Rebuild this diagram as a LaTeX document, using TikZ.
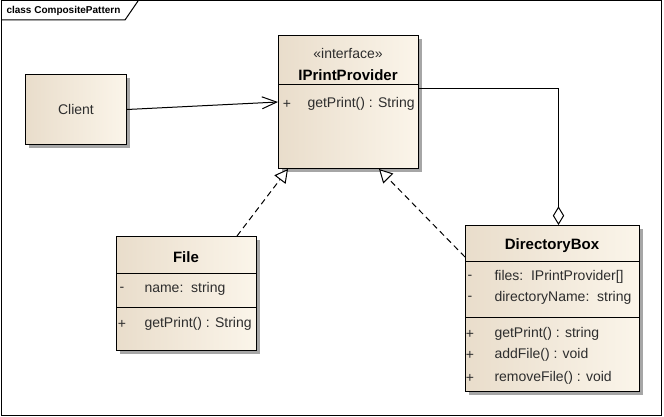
\documentclass[tikz,border=0pt]{standalone}
\usepackage{fontspec}
\setmainfont{Liberation Sans}
\usetikzlibrary{arrows.meta,shadows}

\definecolor{umlfillL}{RGB}{233,221,203}
\definecolor{umlfillR}{RGB}{251,245,234}
\definecolor{umltext}{RGB}{45,45,45}

\tikzset{every picture/.style={line width=0.75pt}}
\tikzset{
  umlclass/.style={draw=black, anchor=north west, inner sep=0pt, left color=umlfillL, right color=umlfillR,
    drop shadow={shadow xshift=2.5pt, shadow yshift=-2.5pt, fill=black!35, opacity=1}},
  classname/.style={inner sep=0pt, font=\bfseries\fontsize{11.25}{13}\selectfont},
  member/.style={anchor=west, inner sep=0pt, text=umltext, font=\fontsize{10.5}{12}\selectfont},
  visib/.style={inner sep=0pt, text=umltext, font=\fontsize{10.5}{12}\selectfont},
  assoc/.style={-{Straight Barb[length=11pt, width=9pt]}},
  realize/.style={dash pattern=on 4.5pt off 3pt, -{Triangle[open, length=10pt, width=10.5pt, fill=white]}},
  aggr/.style={-{Diamond[open, length=14pt, width=8.5pt, fill=white]}}
}

\begin{document}
\begin{tikzpicture}[x=0.75pt,y=0.75pt,yscale=-1,xscale=1]

        \useasboundingbox (0,0) rectangle (664,417);

        % frame
        \draw (1,1) rectangle (661,415);
        \draw (1,20) -- (125,20) -- (138,1);
        \node[anchor=west, inner sep=0pt, font=\bfseries\fontsize{7.5}{9}\selectfont] (frametitle) at (6,11) {class CompositePattern};

        % classes
        \node[umlclass, minimum width=75.75pt, minimum height=52.5pt, text=umltext, font=\fontsize{10.5}{12}\selectfont] (client) at (25,74) {Client};
        \node[umlclass, minimum width=105pt, minimum height=99.75pt] (iface) at (278,35) {};
        \node[umlclass, minimum width=105pt, minimum height=85.5pt] (file) at (116,236) {};
        \node[umlclass, minimum width=130.5pt, minimum height=124.5pt] (dirbox) at (465,225) {};

        \draw (iface.west |- 0,85) -- (iface.east |- 0,85);
        \draw (file.west |- 0,273) -- (file.east |- 0,273);
        \draw (file.west |- 0,307) -- (file.east |- 0,307);
        \draw (dirbox.west |- 0,261) -- (dirbox.east |- 0,261);
        \draw (dirbox.west |- 0,317) -- (dirbox.east |- 0,317);

        % IPrintProvider
        \node[visib] (ifacestereo) at (348,53) {«interface»};
        \node[classname] (ifacename) at (348,75) {IPrintProvider};
        \node[visib] (ifacevis1) at (287,104) {+};
        \node[member] (ifaceop1) at (307,104) {getPrint() : String};

        % File
        \node[classname] (filename) at (186,257) {File};
        \node[visib] (filevis1) at (122,289) {-};
        \node[member] (fileattr1) at (144,289) {name:\ \ string};
        \node[visib] (filevis2) at (122,324) {+};
        \node[member] (fileop1) at (144,324) {getPrint() : String};

        % DirectoryBox
        \node[classname] (dirname) at (552,246) {DirectoryBox};
        \node[visib] (dirvis1) at (470,277) {-};
        \node[member] (dirattr1) at (494,277) {files:\ \ IPrintProvider[]};
        \node[visib] (dirvis2) at (470,298) {-};
        \node[member] (dirattr2) at (494,298) {directoryName:\ \ string};
        \node[visib] (dirvis3) at (470,334) {+};
        \node[member] (dirop1) at (494,334) {getPrint() : string};
        \node[visib] (dirvis4) at (470,355) {+};
        \node[member] (dirop2) at (494,355) {addFile() : void};
        \node[visib] (dirvis5) at (470,378) {+};
        \node[member] (dirop3) at (494,378) {removeFile() : void};

        % connectors
        \draw[assoc] (client.east) -- (iface.west);
        \draw[realize] ([xshift=-15pt]file.north east) -- ([xshift=7.5pt]iface.south west);
        \draw[realize] ([yshift=24pt]dirbox.north west) -- ([xshift=-30pt]iface.south east);
        \draw[aggr] ([yshift=40.5pt]iface.north east) -| ([xshift=4.5pt]dirbox.north);

        \end{tikzpicture}
\end{document}
